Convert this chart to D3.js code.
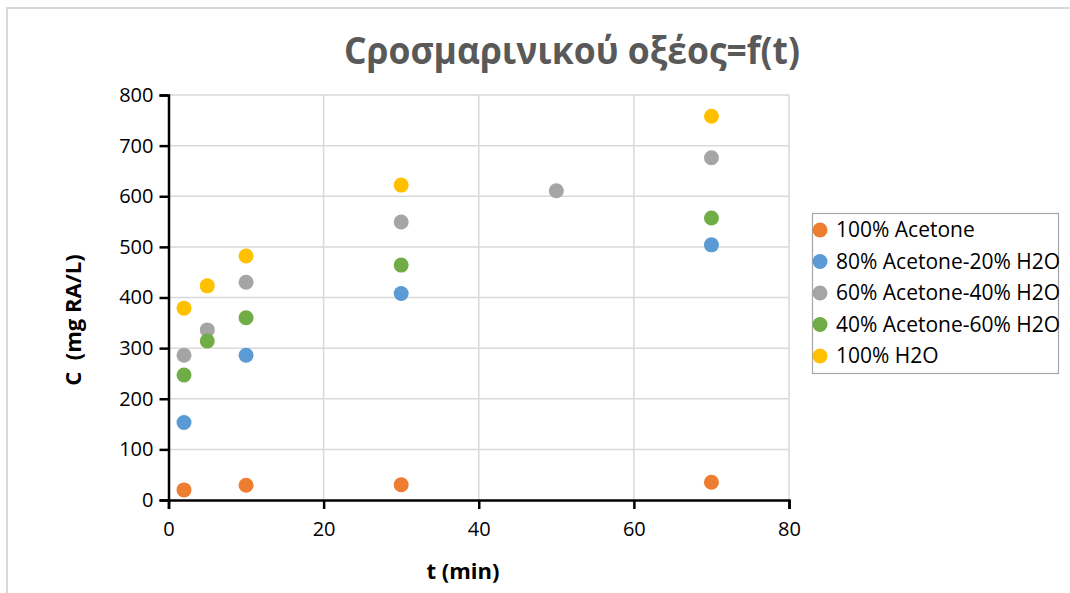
<!DOCTYPE html>
<html>
<head>
<meta charset="utf-8">
<script src="https://cdn.jsdelivr.net/npm/d3@7"></script>
<style>
  html, body { margin: 0; padding: 0; background: #fff; }
  svg { display: block; font-family: "Open Sans", "Liberation Sans", sans-serif; }
</style>
</head>
<body>
<svg id="chart" width="1070" height="593"></svg>
<script>
// Rosmarinic acid concentration vs extraction time, one series per solvent
const seriesNames = [
  "100% Acetone",
  "80% Acetone-20% H2O",
  "60% Acetone-40% H2O",
  "40% Acetone-60% H2O",
  "100% H2O"
];
const seriesColors = ["#ED7D31", "#5B9BD5", "#A5A5A5", "#70AD47", "#FFC000"];

const tAcetone100 = [2, 10, 30, 70];
const cAcetone100 = [20, 29, 30, 35];

const tAcetone80 = [2, 10, 30, 70];
const cAcetone80 = [153, 286, 408, 504];

const tAcetone60 = [2, 5, 10, 30, 50, 70];
const cAcetone60 = [286, 336, 430, 549, 611, 676];

const tAcetone40 = [2, 5, 10, 30, 70];
const cAcetone40 = [247, 314, 360, 464, 557];

const tWater100 = [2, 5, 10, 30, 70];
const cWater100 = [379, 423, 482, 622, 758];

const xTicks = [0, 20, 40, 60, 80];
const yTicks = [0, 100, 200, 300, 400, 500, 600, 700, 800];

const seriesT = [tAcetone100, tAcetone80, tAcetone60, tAcetone40, tWater100];
const seriesC = [cAcetone100, cAcetone80, cAcetone60, cAcetone40, cWater100];

const series = seriesNames.map((name, i) => ({
  name,
  color: seriesColors[i],
  points: seriesT[i].map((t, j) => ({ t, c: seriesC[i][j] }))
}));

const svg = d3.select("#chart");

// chart frame
svg.append("path")
  .attr("d", "M7,600 L7,8 L1080,8")
  .attr("fill", "none")
  .attr("stroke", "#d9d9d9")
  .attr("stroke-width", 2);

const plot = { left: 168.5, right: 789, top: 95, bottom: 500 };

const x = d3.scaleLinear().domain([0, 80]).range([plot.left, plot.right]);
const y = d3.scaleLinear().domain([0, 800]).range([plot.bottom, plot.top]);

// gridlines
const grid = svg.append("g");
grid.selectAll("line.h").data(yTicks.filter(d => d > 0)).join("line")
  .attr("x1", plot.left).attr("x2", plot.right)
  .attr("y1", d => y(d)).attr("y2", d => y(d))
  .attr("stroke", "#d9d9d9").attr("stroke-width", 1.5);
grid.selectAll("line.v").data(xTicks.filter(d => d > 0)).join("line")
  .attr("y1", plot.top).attr("y2", plot.bottom)
  .attr("x1", d => x(d)).attr("x2", d => x(d))
  .attr("stroke", "#d9d9d9").attr("stroke-width", 1.5);

// axes
const xAxis = svg.append("g")
  .attr("transform", `translate(0,${plot.bottom})`)
  .call(d3.axisBottom(x).tickValues(xTicks).tickSizeOuter(0).tickSize(9).tickPadding(11));
const yAxis = svg.append("g")
  .attr("transform", `translate(${plot.left},0)`)
  .call(d3.axisLeft(y).tickValues(yTicks).tickSizeOuter(0).tickSize(9).tickPadding(6));

[xAxis, yAxis].forEach(g => {
  g.select(".domain").attr("stroke", "#000").attr("stroke-width", 2.5);
  g.selectAll(".tick line").attr("stroke", "#000").attr("stroke-width", 2.5);
  g.selectAll(".tick text")
    .attr("fill", "#000")
    .style("font-size", "20px")
    .style("font-family", "'Open Sans', sans-serif");
});
xAxis.selectAll(".tick text").attr("dy", "0.8em");

// markers
series.forEach(s => {
  svg.append("g").selectAll("circle").data(s.points).join("circle")
    .attr("cx", d => x(d.t))
    .attr("cy", d => y(d.c))
    .attr("r", 7.5)
    .attr("fill", s.color);
});

// title
svg.append("text")
  .attr("x", 572).attr("y", 64)
  .attr("text-anchor", "middle")
  .attr("fill", "#595959")
  .style("font-size", "38px")
  .style("font-weight", "bold")
  .attr("textLength", 456)
  .attr("lengthAdjust", "spacingAndGlyphs")
  .text("Cροσμαρινικού οξέος=f(t)");

// axis titles
svg.append("text")
  .attr("x", 463).attr("y", 579)
  .attr("text-anchor", "middle")
  .attr("fill", "#000")
  .style("font-size", "22px")
  .style("font-weight", "bold")
  .text("t (min)");

svg.append("text")
  .attr("transform", "translate(81,320) rotate(-90)")
  .attr("text-anchor", "middle")
  .attr("fill", "#000")
  .style("font-size", "22px")
  .style("font-weight", "bold")
  .style("white-space", "pre")
  .attr("xml:space", "preserve")
  .text("C  (mg RA/L)");

// legend
const legend = svg.append("g");
legend.append("rect")
  .attr("x", 812.5).attr("y", 213.5)
  .attr("width", 246).attr("height", 160)
  .attr("fill", "#fff")
  .attr("stroke", "#a6a6a6").attr("stroke-width", 1.2);

const rows = legend.selectAll("g.row").data(series).join("g")
  .attr("transform", (d, i) => `translate(0,${230 + i * 31.5})`);
rows.append("circle")
  .attr("cx", 820).attr("cy", 0).attr("r", 7.5)
  .attr("fill", d => d.color);
rows.append("text")
  .attr("x", 836).attr("y", 0).attr("dy", "0.35em")
  .attr("fill", "#000")
  .style("font-size", "21px")
  .text(d => d.name);
</script>
</body>
</html>
